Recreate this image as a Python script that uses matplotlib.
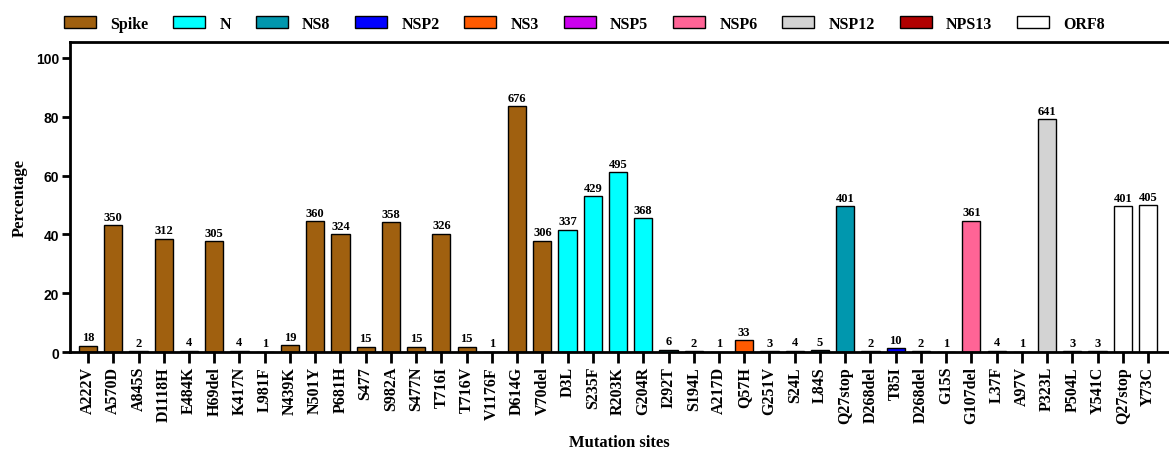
import numpy as np
import matplotlib
matplotlib.use("Agg")
import matplotlib.pyplot as plt
from matplotlib.patches import Patch

# mutation sites, read left to right
sites = ["A222V", "A570D", "A845S", "D1118H", "E484K", "H69del", "K417N", "L981F",
         "N439K", "N501Y", "P681H", "S477", "S982A", "S477N", "T716I", "T716V",
         "V1176F", "D614G", "V70del",
         "D3L", "S235F", "R203K", "G204R", "I292T", "S194L", "A217D",
         "Q57H", "G251V", "S24L", "L84S", "Q27stop",
         "D268del", "T85I", "D268del", "G15S", "G107del", "L37F", "A97V",
         "P323L", "P504L", "Y541C", "Q27stop", "Y73C"]
counts = [18, 350, 2, 312, 4, 305, 4, 1, 19, 360, 324, 15, 358, 15, 326, 15,
          1, 676, 306,
          337, 429, 495, 368, 6, 2, 1,
          33, 3, 4, 5, 401,
          2, 10, 2, 1, 361, 4, 1,
          641, 3, 3, 401, 405]
percent = [2.2, 43.2, 0.25, 38.5, 0.5, 37.7, 0.5, 0.12, 2.3, 44.4, 40.0, 1.85, 44.2, 1.85, 40.2, 1.85,
           0.12, 83.5, 37.8,
           41.6, 53.0, 61.1, 45.4, 0.74, 0.25, 0.12,
           4.1, 0.37, 0.5, 0.62, 49.5,
           0.25, 1.2, 0.25, 0.12, 44.6, 0.5, 0.12,
           79.1, 0.37, 0.37, 49.5, 50.0]
protein = ["Spike"] * 19 + ["N"] * 7 + ["NS3"] * 2 + ["NS8"] * 3 + \
          ["NSP2"] * 3 + ["NSP5"] + ["NSP6"] * 2 + ["NPS13"] + ["NSP12"] + \
          ["NPS13"] * 2 + ["ORF8"] * 2

groups = ["Spike", "N", "NS8", "NSP2", "NS3", "NSP5", "NSP6", "NSP12", "NPS13", "ORF8"]
colors = {"Spike": "#A0600F", "N": "#00FFFF", "NS8": "#0097AE", "NSP2": "#0000FF",
          "NS3": "#FF5A00", "NSP5": "#CC00EE", "NSP6": "#FF6496", "NSP12": "#D3D3D3",
          "NPS13": "#B00000", "ORF8": "#FFFFFF"}

serif = "Liberation Serif"
sans = "Liberation Sans"

fig = plt.figure(figsize=(11.69, 4.52), dpi=100)
ax = fig.add_axes([0.060, 0.219, 0.940, 0.686])

x = np.arange(len(sites))
bar_colors = [colors[p] for p in protein]
ax.bar(x, percent, width=0.72, color=bar_colors, edgecolor="black", linewidth=1.0)

for xi, pv, c in zip(x, percent, counts):
    ax.text(xi, pv + 0.8, str(c), ha="center", va="bottom", fontsize=9,
            fontweight="bold", family=serif)

ax.set_xlim(-0.71, 42.83)
ax.set_ylim(0, 105.4)
ax.set_yticks([0, 20, 40, 60, 80, 100])
ax.set_xticks(x)
ax.set_xticklabels(sites, rotation=90, fontsize=11.5, fontweight="bold", family=serif)
for lab in ax.get_yticklabels():
    lab.set_family(sans)
    lab.set_fontweight("bold")
    lab.set_fontsize(10)

ax.spines["right"].set_visible(False)
for s in ["left", "bottom", "top"]:
    ax.spines[s].set_linewidth(2)
ax.tick_params(axis="x", direction="out", length=8, width=2, pad=2)
ax.tick_params(axis="y", direction="out", length=6, width=2, pad=2)

ax.set_ylabel("Percentage", fontsize=12, fontweight="bold", family=serif, labelpad=6)
ax.set_xlabel("Mutation sites", fontsize=12, fontweight="bold", family=serif, labelpad=8)

handles = [Patch(facecolor=colors[g], edgecolor="black", linewidth=1.0, label=g) for g in groups]
fig.legend(handles=handles, loc="upper center", bbox_to_anchor=(0.50, 0.995), ncol=10,
           frameon=False, handlelength=2.0, handleheight=0.7, columnspacing=1.55,
           handletextpad=0.9, prop={"family": serif, "weight": "bold", "size": 11.5})

fig.savefig("out.png", dpi=100)
